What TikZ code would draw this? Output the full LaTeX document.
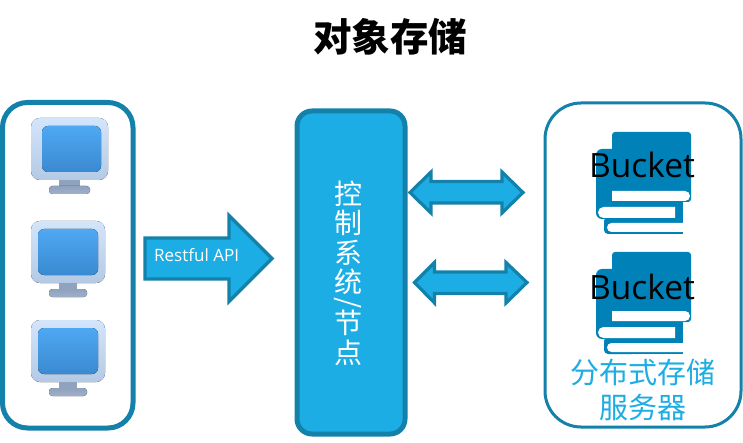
\documentclass[tikz,border=0pt]{standalone}
\usepackage{fontspec}
\setmainfont{Open Sans}
\newfontfamily\cjk{Noto Sans CJK SC}
\definecolor{edgeblue}{HTML}{1481AB}
\definecolor{fillblue}{HTML}{1CADE4}
\definecolor{bookblue}{HTML}{0082B9}
\definecolor{screentop}{HTML}{4FA8F2}
\definecolor{screenbot}{HTML}{3A8AD0}
\definecolor{frametop}{HTML}{D3E5FB}
\definecolor{framebot}{HTML}{B4C9E4}
\definecolor{standtop}{HTML}{8FA2BE}
\definecolor{standbot}{HTML}{A0B0C8}
\tikzset{
  panel/.style={draw=edgeblue,rounded corners=#1},
  blockarrow/.style={draw=edgeblue,fill=fillblue,line width=3.2pt,line join=miter},
  pics/monitorwide/.style={code={
    \fill[top color=frametop,bottom color=framebot,rounded corners=9pt] (0,0) rectangle (77,62);
    \fill[standtop] (28,62) rectangle (49,69);
    \fill[top color=standtop,bottom color=standbot,rounded corners=3.5pt] (18,68) rectangle (59,76);
    \fill[top color=screentop,bottom color=screenbot,rounded corners=6pt] (11,8) rectangle (70,54);
  }},
  pics/monitornarrow/.style={code={
    \fill[top color=frametop,bottom color=framebot,rounded corners=9pt] (0,0) rectangle (74,62);
    \fill[standtop] (28,62) rectangle (46,68);
    \fill[top color=standtop,bottom color=standbot,rounded corners=3.5pt] (18,68) rectangle (56,76);
    \fill[top color=screentop,bottom color=screenbot,rounded corners=6pt] (7,8) rectangle (67,54);
  }},
  pics/bookstack/.style={code={
    \fill[bookblue,rounded corners=3pt] (16,0) -- (95,0) -- (95,70) -- (16,70) -- cycle;
    \fill[bookblue,rounded corners=6pt] (0,17) -- (22,17) -- (22,87) -- (0,87) -- cycle;
    \fill[bookblue] (12,60) rectangle (87,92);
    \fill[bookblue,rounded corners=4pt] (8,85) -- (40,85) -- (40,102) -- (8,102) -- cycle;
    \fill[bookblue] (20,90) rectangle (87,102);
    \fill[white] (16,59) -- (89,59) arc (-90:90:5) -- (16,69) -- cycle;
    \fill[white] (79,75) -- (7.5,75) arc (-90:-270:5.5) -- (79,86) -- cycle;
    \fill[white] (87,91) -- (15.5,91) arc (-90:-270:4.5) -- (87,100) -- cycle;
  }}
}
\begin{document}
\begin{tikzpicture}[x=1pt,y=-1pt]
\useasboundingbox (0,0) rectangle (743,443);
% title
\node[font=\cjk\bfseries\fontsize{38.5}{40}\selectfont,anchor=center] (title) at (390,37) {对象存储};
% panels
\draw[panel=25pt,line width=5pt,fill=white] (2.5,102.5) rectangle (133,428);
\draw[panel=15pt,line width=5pt,fill=fillblue] (297,111) rectangle (405,434);
\draw[panel=36pt,line width=3pt,fill=white] (545,103) rectangle (741,427);
% monitors
\pic at (31,118) {monitorwide};
\pic at (31,221) {monitornarrow};
\pic at (31,320) {monitornarrow};
% big arrow
\draw[blockarrow] (145,238) -- (229,238) -- (229,215.5) -- (272,258.5) -- (229,301.5) -- (229,279) -- (145,279) -- cycle;
\node[text=white,font=\fontsize{17}{18}\selectfont,anchor=west,inner sep=0pt] (api) at (154,255) {Restful API};
% double arrows
\draw[blockarrow] (410,192.5) -- (431,172) -- (431,181.5) -- (502,181.5) -- (502,172) -- (523,192.5) -- (502,213) -- (502,203) -- (431,203) -- (431,213) -- cycle;
\draw[blockarrow] (414.5,282.5) -- (434.5,262.5) -- (434.5,272) -- (506,272) -- (506,262.5) -- (527,282.5) -- (506,303) -- (506,293.5) -- (434.5,293.5) -- (434.5,303) -- cycle;
% centre text
\node[text=white,font=\cjk\fontsize{28}{29.5}\selectfont,align=center,inner sep=0pt] (ctrl) at (348,273)
 {控\\制\\系\\统\\[-11pt]\smash{\rotatebox[origin=c]{90}{/}}\\[-7pt]节\\点};
% books
\pic at (596,132) {bookstack};
\pic at (596,252) {bookstack};
\node[font=\fontsize{33.5}{38}\selectfont,text=black,inner sep=0pt] (b1) at (642,165) {Bucket};
\node[font=\fontsize{33.5}{38}\selectfont,text=black,inner sep=0pt] (b2) at (642,287) {Bucket};
\node[font=\cjk\fontsize{29}{35}\selectfont,text=fillblue,align=center,inner sep=0pt] (srv) at (643,390)
 {分布式存储\\服务器};
\end{tikzpicture}
\end{document}
